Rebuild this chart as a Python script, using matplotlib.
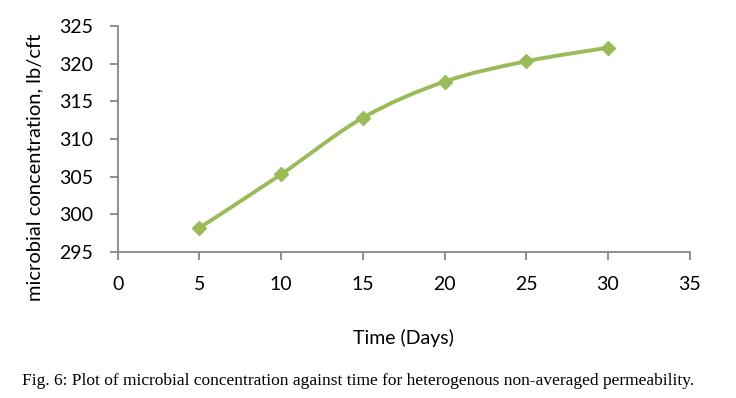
import matplotlib.pyplot as plt
import numpy as np
from matplotlib.path import Path
from matplotlib.patches import PathPatch

days = [5, 10, 15, 20, 25, 30]
conc = [298.2, 305.3, 312.8, 317.6, 320.3, 322.1]
x_ticks = [0, 5, 10, 15, 20, 25, 30, 35]
y_ticks = [295, 300, 305, 310, 315, 320, 325]

green = "#9bbb59"
axis_gray = "#868686"
plt.rcParams["font.family"] = ["Lato", "DejaVu Sans"]


def smooth_path(x, y, t=1 / 6):
    # Excel-style smoothed line: cubic bezier through the points
    pts = np.column_stack([x, y]).astype(float)
    verts = [pts[0]]
    codes = [Path.MOVETO]
    n = len(pts)
    for i in range(n - 1):
        p0 = pts[i - 1] if i > 0 else pts[i]
        p1, p2 = pts[i], pts[i + 1]
        p3 = pts[i + 2] if i + 2 < n else pts[i + 1]
        c1 = p1 + (p2 - p0) * t
        c2 = p2 - (p3 - p1) * t
        verts += [c1, c2, p2]
        codes += [Path.CURVE4] * 3
    return Path(verts, codes)


fig = plt.figure(figsize=(7.36, 3.98), dpi=100)
ax = fig.add_axes([0.160, 0.367, 0.777, 0.568])

# smoothing done in normalised units so the curve shape is not distorted by scales
sx, sy = 1 / 35, 1 / 30
path = smooth_path(np.array(days) * sx, (np.array(conc) - 295) * sy)
path = Path(np.column_stack([path.vertices[:, 0] / sx, path.vertices[:, 1] / sy + 295]), path.codes)
ax.add_patch(PathPatch(path, facecolor="none", edgecolor=green, lw=2.8, zorder=2))
ax.plot(days, conc, ls="none", marker="D", ms=7.5, color=green, zorder=3)

ax.set_xlim(0, 35)
ax.set_ylim(295, 325)
ax.set_xticks(x_ticks)
ax.set_yticks(y_ticks)
for s in ["top", "right"]:
    ax.spines[s].set_visible(False)
for s in ["left", "bottom"]:
    ax.spines[s].set_color(axis_gray)
    ax.spines[s].set_linewidth(1.3)
ax.tick_params(axis="x", direction="out", length=6, width=1.3, color=axis_gray, pad=11, labelsize=14)
ax.tick_params(axis="y", direction="out", length=6, width=1.3, color=axis_gray, pad=12, labelsize=14)

ax.set_xlabel("Time (Days)", fontsize=14, labelpad=26)
ax.set_ylabel("microbial concentration, lb/cft", fontsize=14.5, va="center")
ax.yaxis.set_label_coords(-0.145, 0.372)

fig.text(0.03, 0.032, "Fig. 6: Plot of microbial concentration against time for heterogenous non-averaged permeability.",
         family="Liberation Serif", fontsize=12.5)

fig.savefig("out.png", dpi=100)
